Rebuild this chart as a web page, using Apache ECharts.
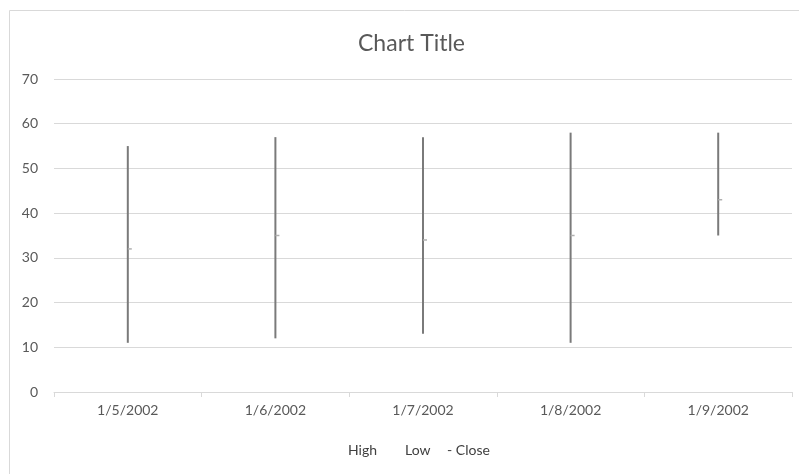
<!DOCTYPE html>
<html><head><meta charset="utf-8">
<script src="https://cdn.jsdelivr.net/npm/echarts@6/dist/echarts.min.js"></script>
<style>html,body{margin:0;padding:0;background:#fff}#c{width:799px;height:474px}</style>
</head><body><div id="c"></div>
<script>
var categories = ['1/5/2002','1/6/2002','1/7/2002','1/8/2002','1/9/2002'];
var high = [55, 57, 57, 58, 58];
var low = [11, 12, 13, 11, 35];
var close = [32, 35, 34, 35, 43];
var yTicks = [0, 70, 10];

var chart = echarts.init(document.getElementById('c'), null, {renderer:'canvas'});
var font = 'Lato, "Open Sans", sans-serif';
var data = categories.map(function(c,i){return [i, high[i], low[i], close[i]];});
chart.setOption({
  animation:false,
  title:{text:'Chart Title', left:353, top:27, textStyle:{fontFamily:font, fontSize:23, fontWeight:'normal', color:'#595959'}},
  grid:{left:54, right:7, top:79, bottom:82},
  xAxis:{type:'category', data:categories, boundaryGap:true,
    axisLine:{lineStyle:{color:'#d9d9d9'}},
    axisTick:{show:true, length:5, lineStyle:{color:'#d9d9d9'}},
    axisLabel:{color:'#595959', fontFamily:font, fontSize:14, margin:11}},
  yAxis:{type:'value', min:yTicks[0], max:yTicks[1], interval:yTicks[2],
    axisLine:{show:false}, axisTick:{show:false},
    splitLine:{lineStyle:{color:'#d9d9d9'}},
    axisLabel:{color:'#595959', fontFamily:font, fontSize:14, margin:16}},
  graphic:[
    {type:'rect', shape:{x:9.5,y:10.5,width:800,height:480}, style:{fill:'none', stroke:'#d9d9d9', lineWidth:1}, silent:true},
    {type:'text', left:348, top:443, style:{text:'High', fill:'#404040', font:'14px '+font}},
    {type:'text', left:405, top:443, style:{text:'Low', fill:'#404040', font:'14px '+font}},
    {type:'text', left:447, top:443, style:{text:'- Close', fill:'#404040', font:'14px '+font}}
  ],
  series:[{
    type:'custom', data:data,
    renderItem:function(params, api){
      var x = api.value(0);
      var ph = api.coord([x, api.value(1)]);
      var pl = api.coord([x, api.value(2)]);
      var pc = api.coord([x, api.value(3)]);
      return {type:'group', children:[
        {type:'line', shape:{x1:ph[0], y1:ph[1], x2:pl[0], y2:pl[1]}, style:{stroke:'#7a7a7a', lineWidth:2}},
        {type:'line', shape:{x1:pc[0], y1:pc[1], x2:pc[0]+4, y2:pc[1]}, style:{stroke:'#b0b0b0', lineWidth:1.5}}
      ]};
    }
  }]
});
</script></body></html>
